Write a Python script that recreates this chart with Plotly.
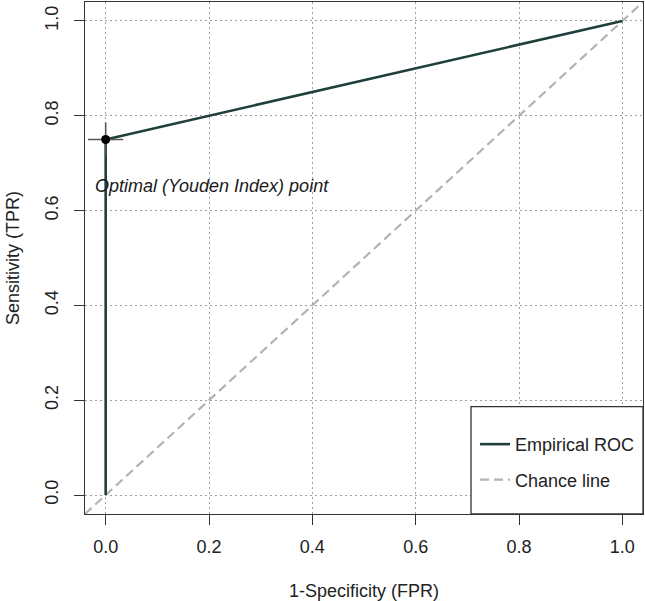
import plotly.graph_objects as go

# ---- data ----
fpr = [0.0, 0.0, 1.0]
tpr = [0.0, 0.75, 1.0]
opt_fpr = [0.0]
opt_tpr = [0.75]
opt_err_x = [0.034]
opt_err_y = [0.036]
axis_range = [-0.04, 1.04]
chance_x = axis_range
chance_y = axis_range
tick_vals = [0.0, 0.2, 0.4, 0.6, 0.8, 1.0]
tick_text = ["0.0", "0.2", "0.4", "0.6", "0.8", "1.0"]
annot_text = "Optimal (Youden Index) point"

FONT = "Liberation Sans, Arial, sans-serif"
FS = 18
ROC_COL = "#1E3F3B"

fig = go.Figure()

fig.add_trace(go.Scatter(
    x=chance_x, y=chance_y, mode="lines", name="Chance line",
    line=dict(color="#b3b3b3", width=2.2, dash="9px,5px"),
    legendgroup="b", legendrank=2, hoverinfo="skip"))

fig.add_trace(go.Scatter(
    x=fpr, y=tpr, mode="lines", name="Empirical ROC",
    line=dict(color=ROC_COL, width=2.6),
    legendgroup="a", legendrank=1))

fig.add_trace(go.Scatter(
    x=opt_fpr, y=opt_tpr, mode="markers", showlegend=False,
    marker=dict(color="black", size=9),
    error_x=dict(type="data", array=opt_err_x, width=0, color="#555555", thickness=1.6),
    error_y=dict(type="data", array=opt_err_y, width=0, color="#555555", thickness=1.6)))

fig.add_annotation(
    x=-0.0246, y=0.652, xref="x", yref="y", text=annot_text,
    showarrow=False, xanchor="left", yanchor="middle",
    font=dict(family=FONT, size=FS, color="#1a1a1a", style="italic"))

# legend box
fig.add_shape(type="rect", xref="paper", yref="paper",
              x0=0.6918, x1=1.0, y0=0.0, y1=0.2096,
              fillcolor="white", line=dict(color="#333333", width=1.3),
              layer="above")

axis_common = dict(
    range=axis_range, tickvals=tick_vals, ticktext=tick_text,
    showgrid=True, gridcolor="#a0a0a0", griddash="2px,3px", gridwidth=1,
    zeroline=False, showline=True, mirror=True, linecolor="#333333",
    linewidth=1.3, ticks="outside", ticklen=10, tickwidth=1.3,
    tickcolor="#333333", tickfont=dict(family=FONT, size=FS, color="#222222"),
)

fig.update_xaxes(**axis_common, ticklabelstandoff=6,
                 title=dict(text="1-Specificity (FPR)", standoff=28,
                            font=dict(family=FONT, size=FS, color="#222222")))
fig.update_yaxes(**axis_common, tickangle=-90, ticklabelstandoff=9,
                 title=dict(text="Sensitivity (TPR)", standoff=17,
                            font=dict(family=FONT, size=FS, color="#222222")))

fig.update_layout(
    width=645, height=601,
    margin=dict(l=85, r=2, t=2, b=87, autoexpand=False),
    plot_bgcolor="white", paper_bgcolor="white",
    showlegend=True,
    legend=dict(x=0.699, y=0.172, xanchor="left", yanchor="top",
                bgcolor="rgba(0,0,0,0)", borderwidth=0,
                tracegroupgap=9, traceorder="grouped",
                font=dict(family=FONT, size=FS, color="#222222")),
    font=dict(family=FONT, size=FS),
)

fig.write_html("out.html")
